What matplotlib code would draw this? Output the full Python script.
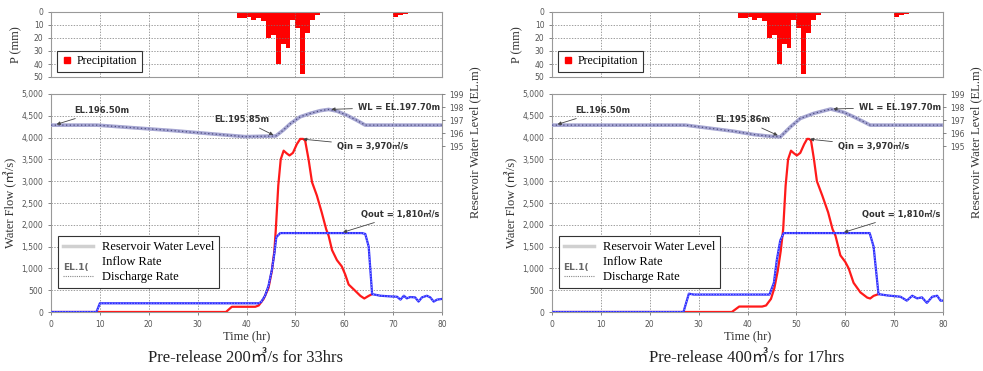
import numpy as np
import matplotlib
matplotlib.use('Agg')
import matplotlib.pyplot as plt
from matplotlib.lines import Line2D

SERIF = ['Liberation Serif', 'Noto Sans CJK KR', 'DejaVu Sans']
SANS = ['DejaVu Sans', 'Noto Sans CJK KR']

# precipitation (same storm for both cases), hourly bars
rain_hr = [38, 39, 40, 41, 42, 43, 44, 45, 46, 47, 48, 49, 50, 51, 52, 53, 54,
           60, 69, 70, 71, 72, 73]
rain_mm = [5, 5, 4, 6, 5, 7, 20, 18, 40, 25, 28, 6, 12, 48, 16, 6, 2,
           0.7, 1, 3.5, 2.3, 1.3, 0.5]

# case A: pre-release 200 m3/s for 33 hrs
inflow_t_a = [0, 35.8, 37.0, 41.8, 42.5, 43.5, 44.5, 45.2, 45.7, 46.0, 46.5, 47.0,
              47.6, 48.2, 48.8, 49.5, 50.3, 51.0, 51.6, 52.0, 52.7, 53.4, 54.4, 55.4,
              56.3, 56.8, 57.5, 58.5, 59.5, 60.2, 60.9, 62.3, 63.3, 64.1, 65.0, 65.7]
inflow_a = [0, 0, 120, 120, 150, 300, 550, 950, 1400, 1900, 2900, 3500,
            3700, 3640, 3590, 3650, 3850, 3970, 3970, 3930, 3500, 2980, 2670, 2280,
            1900, 1750, 1420, 1190, 1045, 860, 630, 480, 370, 310, 370, 410]
outflow_t_a = [0, 9.3, 10.0, 42.5, 43.0, 43.8, 44.5, 45.2, 45.7, 46.1, 46.9, 63.6,
               64.3, 65.0, 65.7, 67.4, 69.4, 70.8, 71.5, 72.2, 72.8, 73.5, 74.5, 75.2,
               75.9, 76.9, 77.6, 78.3, 79.0, 80]
outflow_a = [0, 0, 200, 200, 230, 373, 600, 970, 1343, 1716, 1810, 1810,
             1790, 1500, 410, 373, 358, 350, 284, 373, 313, 343, 335, 239,
             335, 373, 335, 239, 284, 300]
level_t_a = [0, 9.4, 25.0, 39.7, 46.0, 47.5, 49.0, 51.0, 53.0, 55.0, 56.8, 58.5,
             60.5, 62.5, 64.3, 80]
level_a = [196.62, 196.62, 196.2, 195.74, 195.79, 196.23, 196.74, 197.26, 197.51,
           197.72, 197.82, 197.69, 197.38, 197.0, 196.62, 196.62]

# case B: pre-release 400 m3/s for 17 hrs
inflow_t_b = [0, 36.8, 38.3, 43.0, 43.8, 44.8, 45.5, 46.2, 46.8, 47.3, 47.8, 48.3,
              48.9, 49.5, 50.1, 50.8, 51.6, 52.2, 52.6, 53.0, 53.6, 54.2, 55.3, 56.5,
              57.4, 58.0, 59.0, 60.0, 60.7, 61.7, 63.1, 64.5, 65.1, 65.8, 66.8]
inflow_b = [0, 0, 125, 125, 150, 300, 550, 950, 1400, 1900, 2900, 3500,
            3700, 3640, 3590, 3650, 3850, 3970, 3970, 3930, 3500, 3000, 2670, 2285,
            1900, 1750, 1300, 1150, 1000, 670, 450, 330, 310, 370, 410]
outflow_t_b = [0, 26.9, 28.0, 29.0, 44.5, 45.4, 46.0, 46.7, 47.4, 65.0, 65.8, 66.8,
               68.6, 71.3, 72.6, 73.7, 74.7, 75.7, 76.7, 77.8, 78.8, 79.5, 80]
outflow_b = [0, 0, 420, 400, 400, 670, 1194, 1640, 1810, 1810, 1500, 410,
             380, 350, 261, 373, 313, 335, 209, 350, 373, 261, 261]
level_t_b = [0, 27.3, 37.2, 41.3, 44.0, 46.7, 48.8, 50.8, 53.5, 57.0, 59.7, 61.7,
             63.8, 65.1, 80]
level_b = [196.62, 196.62, 196.15, 195.9, 195.79, 195.72, 196.49, 197.13, 197.51,
           197.85, 197.6, 197.26, 196.87, 196.62, 196.62]

W, H = 983, 371


def px_box(x0, y0, x1, y1):
    return [x0 / W, 1 - y1 / H, (x1 - x0) / W, (y1 - y0) / H]


def style_ax(ax):
    for s in ax.spines.values():
        s.set_color('#999999')
        s.set_linewidth(0.8)
    ax.tick_params(labelsize=5.5, colors='#555555', length=2, width=0.5)
    ax.grid(True, color='#777777', linestyle=(0, (2, 2)), linewidth=0.5)


def panel(fig, x0, t_in, q_in, t_out, q_out, t_lv, lv, low_label, caption):
    x1 = x0 + 391
    # precipitation
    axp = fig.add_axes(px_box(x0, 12, x1, 77))
    axp.bar(rain_hr, rain_mm, width=1.0, align='edge', color='#ff0000', linewidth=0)
    axp.set_xlim(0, 80)
    axp.set_ylim(50, 0)
    axp.set_xticks(np.arange(0, 81, 10))
    axp.set_yticks(np.arange(0, 51, 10))
    axp.set_xticklabels([])
    style_ax(axp)
    axp.tick_params(axis='x', length=0)
    axp.set_ylabel('P (mm)', family=SERIF, fontsize=9, color='#333333', labelpad=8)
    lp = axp.legend(handles=[Line2D([], [], marker='s', color='#ff0000', ls='none', markersize=5)],
                    labels=['Precipitation'], loc='lower left', bbox_to_anchor=(0.015, 0.077),
                    borderaxespad=0, prop={'family': SERIF, 'size': 8.5}, frameon=True,
                    fancybox=False, edgecolor='#333333', framealpha=1, handletextpad=0.3,
                    borderpad=0.4, handlelength=1.0)
    lp.get_frame().set_linewidth(0.8)

    # flows
    ax = fig.add_axes(px_box(x0, 94, x1, 312))
    ax.plot(t_in, q_in, color='#ff1a1a', lw=1.6, zorder=3)
    ax.plot(t_out, q_out, color='#2b2bff', lw=1.6, zorder=4)
    ax.plot(t_out, q_out, color='#9a9aff', lw=0.8, ls=(0, (1, 1.5)), zorder=5)
    ax.set_xlim(0, 80)
    ax.set_ylim(0, 5000)
    ax.set_xticks(np.arange(0, 81, 10))
    ax.set_yticks(np.arange(0, 5001, 500))
    ax.set_yticklabels(['{:,}'.format(v) for v in range(0, 5001, 500)])
    style_ax(ax)
    ax.set_xlabel('Time (hr)', family=SERIF, fontsize=9, color='#333333', labelpad=1)
    ax.set_ylabel('Water Flow (㎥/s)', family=SERIF, fontsize=9, color='#333333', labelpad=3)

    # water level on right axis
    ax2 = ax.twinx()
    ax2.set_ylim(199 - 5000 / 300, 199)
    ax2.plot(t_lv, lv, color='#a6a6d2', lw=2.6, zorder=2)
    ax2.plot(t_lv, lv, color='#4d4d80', lw=0.9, ls=(0, (1, 2)), zorder=3)
    ax2.set_yticks([195, 196, 197, 198, 199])
    for s in ax2.spines.values():
        s.set_visible(False)
    ax2.tick_params(labelsize=5.5, colors='#555555', length=2, width=0.5)
    ax2.set_ylabel('Reservoir Water Level (EL.m)', family=SERIF, fontsize=9,
                   color='#333333')
    ax2.yaxis.set_label_coords(1.07, 0.78)

    arr = dict(arrowstyle='-|>', color='#444444', lw=0.6, mutation_scale=5)
    kw = dict(fontsize=6.0, family=SANS, color='#333333', fontweight='bold', zorder=6)
    ax2.annotate('EL.196.50m', xy=(t_lv[0] + 0.6, lv[0]), xytext=(4.7, 197.55),
                 arrowprops=arr, **kw)
    i_low = int(np.argmin(lv))
    low_t = t_lv[i_low + 1] if t_lv is level_t_a else t_lv[i_low]
    ax2.annotate(low_label, xy=(low_t, lv[i_low] + 0.03), xytext=(33.5, 196.85),
                 arrowprops=arr, **kw)
    i_pk = int(np.argmax(lv))
    ax2.annotate('WL = EL.197.70m', xy=(t_lv[i_pk], lv[i_pk]), xytext=(62.8, 197.8),
                 arrowprops=arr, **kw)
    i_q = int(np.argmax(q_in))
    ax.annotate('Qin = 3,970㎥/s', xy=(t_in[i_q], q_in[i_q]), xytext=(58.5, 3750),
                arrowprops=arr, **kw)
    ax.annotate('Qout = 1,810㎥/s', xy=(59.2, 1810), xytext=(63.5, 2180),
                arrowprops=arr, **kw)

    # legend
    handles = [Line2D([], [], color='#d0d0d0', lw=2.5),
               Line2D([], [], color='none'),
               Line2D([], [], color='#888888', lw=0.8, ls=(0, (1, 1)))]
    leg = ax.legend(handles, ['Reservoir Water Level', 'Inflow Rate', 'Discharge Rate'],
                    loc='upper left', bbox_to_anchor=(0.018, 0.349), borderaxespad=0,
                    prop={'family': SERIF, 'size': 9}, frameon=True, fancybox=False,
                    edgecolor='#333333', framealpha=1, handlelength=2.4, handletextpad=0.7,
                    labelspacing=0.25, borderpad=0.4)
    leg.get_frame().set_linewidth(0.8)
    leg.set_zorder(10)
    ax.text(5.0, 1010, 'EL.1(', fontsize=6.5, family=SANS, color='#666666',
            fontweight='bold', ha='center', va='center', zorder=11)

    fig.text((x0 + 195) / W, 1 - 358 / H, caption, ha='center', va='center',
             family=SERIF, fontsize=12, color='#222222')


fig = plt.figure(figsize=(W / 100, H / 100), dpi=100)
panel(fig, 51, inflow_t_a, inflow_a, outflow_t_a, outflow_a, level_t_a, level_a,
      'EL.195.85m', 'Pre-release 200㎥/s for 33hrs')
panel(fig, 552, inflow_t_b, inflow_b, outflow_t_b, outflow_b, level_t_b, level_b,
      'EL.195.86m', 'Pre-release 400㎥/s for 17hrs')
fig.savefig('out.png', dpi=100)
